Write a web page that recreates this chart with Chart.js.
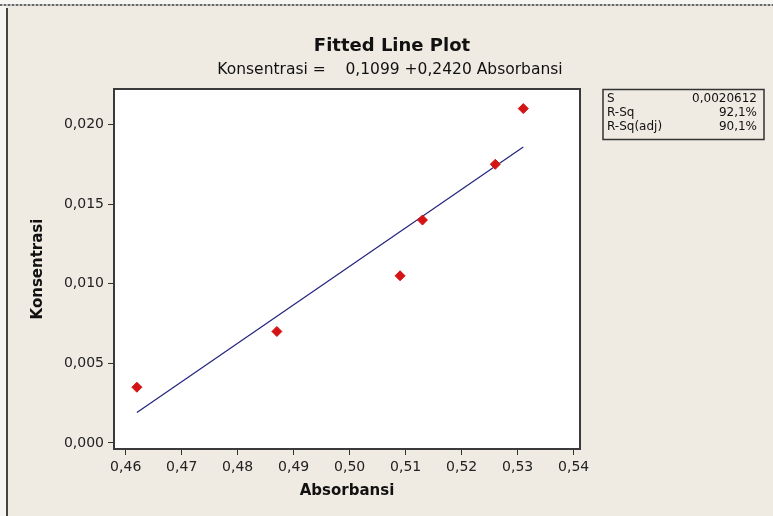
<!DOCTYPE html>
<html>
<head>
<meta charset="utf-8">
<title>Fitted Line Plot</title>
<script src="https://cdn.jsdelivr.net/npm/chart.js@4.4.1/dist/chart.umd.min.js"></script>
<style>
  html, body { margin: 0; padding: 0; background: #efebe2; }
  canvas { display: block; }
</style>
</head>
<body>
<canvas id="fitChart" width="773" height="516"></canvas>
<script>
// measured points
const absorbansi = [0.462, 0.487, 0.509, 0.513, 0.526, 0.531];
const konsentrasi = [0.0035, 0.0070, 0.0105, 0.0140, 0.0175, 0.0210];

// fitted line, end points as drawn
const fitX = [0.462, 0.531];
const fitY = [0.00191, 0.01858];

const xTicks = [0.46, 0.47, 0.48, 0.49, 0.50, 0.51, 0.52, 0.53, 0.54];
const xTickLabels = ['0,46', '0,47', '0,48', '0,49', '0,50', '0,51', '0,52', '0,53', '0,54'];
const yTicks = [0, 0.005, 0.010, 0.015, 0.020];
const yTickLabels = ['0,000', '0,005', '0,010', '0,015', '0,020'];

const statNames = ['S', 'R-Sq', 'R-Sq(adj)'];
const statValues = ['0,0020612', '92,1%', '90,1%'];

const FONT = '"DejaVu Sans", sans-serif';
const BG = '#efebe2';

const pagePlugin = {
  id: 'page',
  beforeDraw(chart) {
    const { ctx, chartArea: a, width, height } = chart;
    ctx.save();
    ctx.fillStyle = BG;
    ctx.fillRect(0, 0, width, height);
    // window edge: dotted top line, dark left line
    ctx.fillStyle = '#f6f5f2';
    ctx.fillRect(0, 0, width, 4);
    ctx.fillRect(0, 0, 6, height);
    ctx.strokeStyle = '#bdbdbd';
    ctx.lineWidth = 2;
    ctx.beginPath();
    ctx.moveTo(0, 5);
    ctx.lineTo(width, 5);
    ctx.stroke();
    ctx.strokeStyle = '#6a6a6a';
    ctx.setLineDash([2, 2]);
    ctx.beginPath();
    ctx.moveTo(0, 5);
    ctx.lineTo(width, 5);
    ctx.stroke();
    ctx.setLineDash([]);
    ctx.strokeStyle = '#444';
    ctx.beginPath();
    ctx.moveTo(7, 8);
    ctx.lineTo(7, height);
    ctx.stroke();
    // plot area
    ctx.fillStyle = '#ffffff';
    ctx.fillRect(a.left, a.top, a.right - a.left, a.bottom - a.top);
    ctx.restore();
  },
  afterDraw(chart) {
    const { ctx, chartArea: a } = chart;
    ctx.save();
    ctx.strokeStyle = '#3a3a3a';
    ctx.lineWidth = 2;
    ctx.strokeRect(a.left, a.top, a.right - a.left, a.bottom - a.top);

    // titles
    ctx.fillStyle = '#111';
    ctx.textAlign = 'center';
    ctx.textBaseline = 'alphabetic';
    ctx.font = 'bold 18px ' + FONT;
    ctx.fillText('Fitted Line Plot', 392, 51);
    ctx.font = '15.5px ' + FONT;
    ctx.fillText('Konsentrasi =    0,1099 +0,2420 Absorbansi', 390, 74);

    // stats box
    ctx.strokeStyle = '#333';
    ctx.lineWidth = 1.5;
    ctx.strokeRect(603, 89.5, 161, 50);
    ctx.font = '12px ' + FONT;
    ctx.textBaseline = 'middle';
    statNames.forEach((name, i) => {
      const y = 99 + i * 14;
      ctx.textAlign = 'left';
      ctx.fillText(name, 607, y);
      ctx.textAlign = 'right';
      ctx.fillText(statValues[i], 757, y);
    });
    ctx.restore();
  }
};

new Chart(document.getElementById('fitChart'), {
  type: 'scatter',
  data: {
    datasets: [{
      label: 'Data',
      data: absorbansi.map((x, i) => ({ x: x, y: konsentrasi[i] })),
      pointStyle: 'rectRot',
      pointRadius: 5,
      backgroundColor: '#d41414',
      borderColor: '#d41414',
      borderWidth: 1
    }, {
      label: 'Fit',
      data: fitX.map((x, i) => ({ x: x, y: fitY[i] })),
      showLine: true,
      pointRadius: 0,
      borderColor: '#23237e',
      borderWidth: 1.2
    }]
  },
  options: {
    responsive: false,
    animation: false,
    devicePixelRatio: 1,
    layout: {
      autoPadding: false,
      padding: { top: 89, right: 193, bottom: 0, left: 0 }
    },
    plugins: {
      legend: { display: false },
      title: { display: false },
      tooltip: { enabled: false }
    },
    scales: {
      x: {
        type: 'linear',
        min: 0.45791,
        max: 0.54113,
        afterFit(scale) { scale.height = 67; },
        afterBuildTicks(scale) { scale.ticks = xTicks.map(v => ({ value: v })); },
        border: { display: false },
        grid: { drawOnChartArea: false, drawTicks: true, tickLength: 6, color: '#333' },
        ticks: {
          padding: 4,
          color: '#222',
          font: { family: FONT, size: 14 },
          maxRotation: 0,
          callback: (v, i) => xTickLabels[i]
        },
        title: {
          display: true,
          text: 'Absorbansi',
          color: '#111',
          font: { family: FONT, size: 15, weight: 'bold' },
          padding: { top: 0, bottom: 16 }
        }
      },
      y: {
        type: 'linear',
        min: -0.00038,
        max: 0.02223,
        afterFit(scale) { scale.width = 114; },
        afterBuildTicks(scale) { scale.ticks = yTicks.map(v => ({ value: v })); },
        border: { display: false },
        grid: { drawOnChartArea: false, drawTicks: true, tickLength: 6, color: '#333' },
        ticks: {
          padding: 4,
          color: '#222',
          font: { family: FONT, size: 14 },
          callback: (v, i) => yTickLabels[i]
        },
        title: {
          display: true,
          text: 'Konsentrasi',
          color: '#111',
          font: { family: FONT, size: 15, weight: 'bold' },
          padding: { top: 29, bottom: 0 }
        }
      }
    }
  },
  plugins: [pagePlugin]
});
</script>
</body>
</html>
